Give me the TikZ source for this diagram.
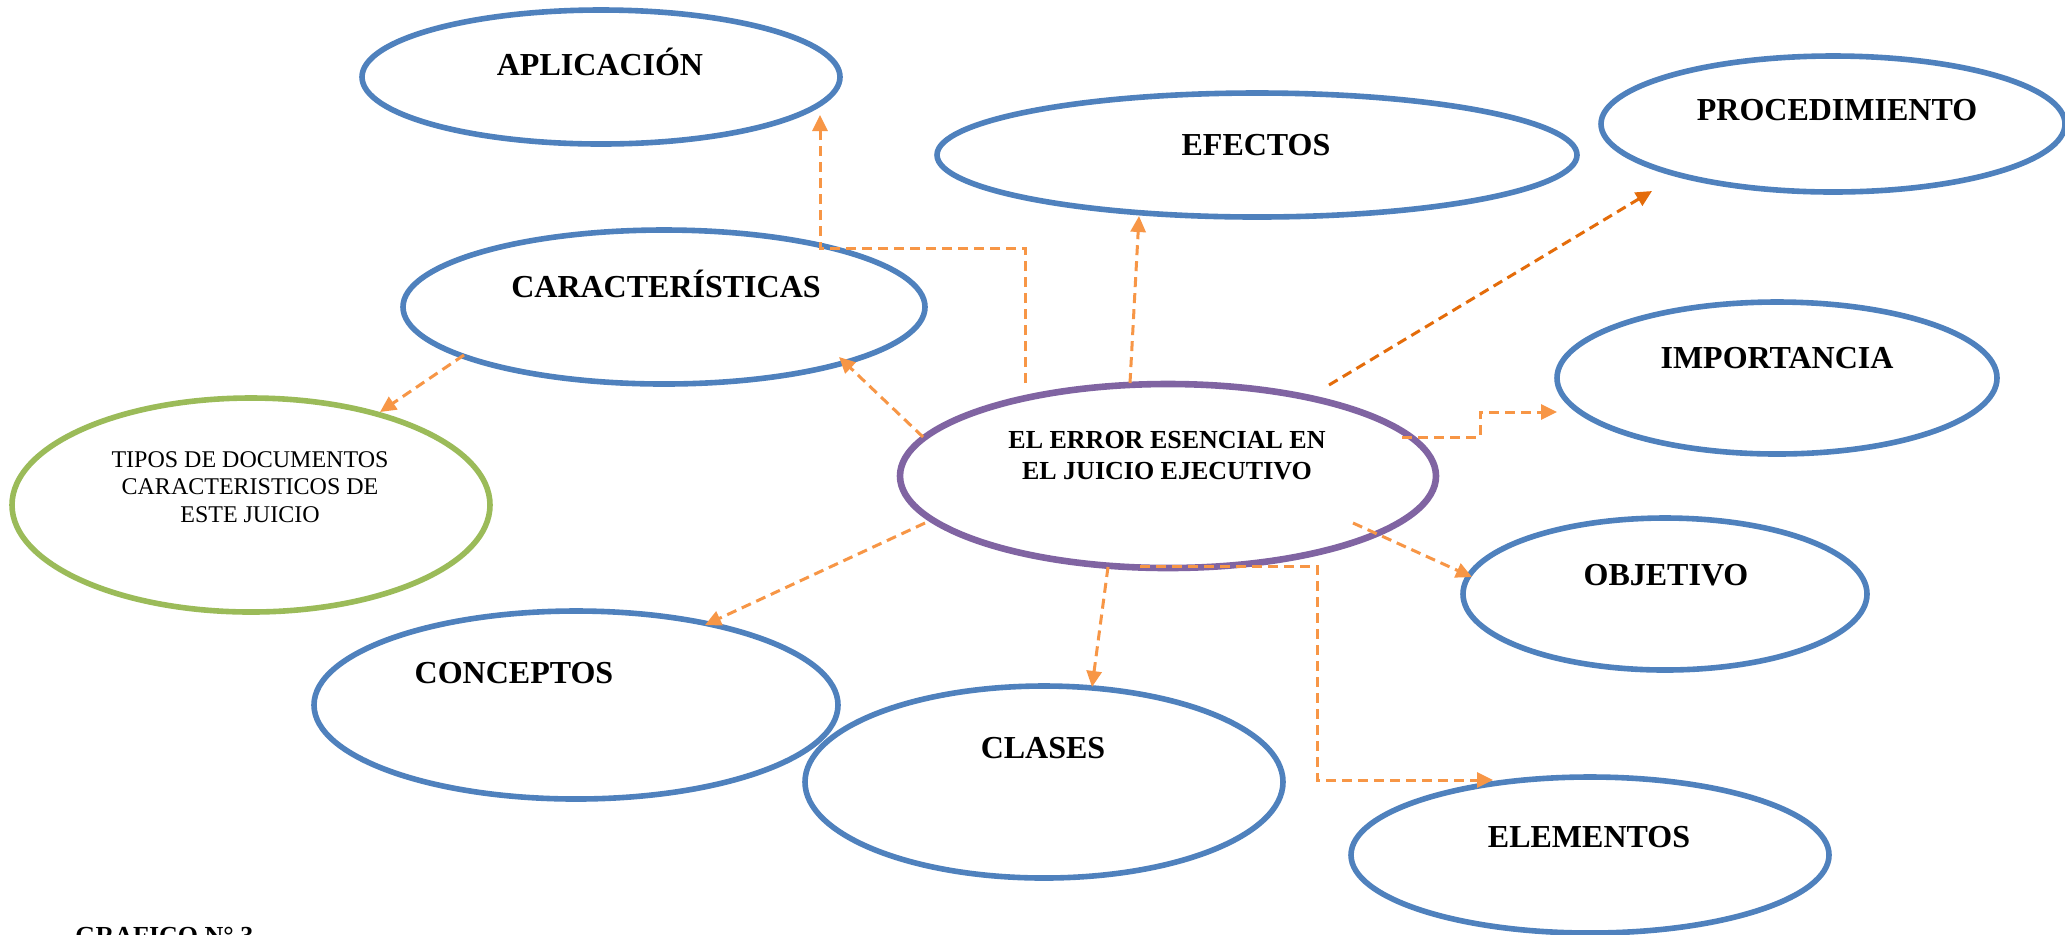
\documentclass[tikz,border=0pt]{standalone}
\usepackage{fontspec}
\setmainfont{Liberation Serif}
\usetikzlibrary{shapes.geometric,arrows.meta,calc}
\definecolor{ebl}{HTML}{4F81BD}
\definecolor{epu}{HTML}{8064A2}
\definecolor{egr}{HTML}{9BBB59}
\definecolor{eor}{HTML}{F79646}
\definecolor{edk}{HTML}{E46C0A}
\begin{document}
\begin{tikzpicture}[x=0.5pt,y=-0.5pt,
  ell/.style={ellipse,draw=ebl,line width=2.8pt,inner sep=0pt},
  lbl/.style={font=\fontsize{16}{19}\selectfont\bfseries,anchor=base,inner sep=0pt},
  conn/.style={draw=eor,line width=1.5pt,dash pattern=on 5pt off 3pt,
    -{Triangle[length=8pt,width=7.5pt]}}]
\fill[white] (0,0) rectangle (2065,934);
\useasboundingbox (0,0) rectangle (2065,934);

% ellipses
\node[ell,minimum width=239pt,minimum height=67pt] (apl) at (601,77) {};
\node[ell,minimum width=320pt,minimum height=62pt] (efe) at (1257,155) {};
\node[ell,minimum width=232pt,minimum height=68pt] (pro) at (1833,124) {};
\node[ell,minimum width=261pt,minimum height=77pt] (car) at (664,307) {};
\node[ell,minimum width=220pt,minimum height=76pt] (imp) at (1777,378) {};
\node[ell,draw=egr,minimum width=239pt,minimum height=107pt] (tdoc) at (251,505) {};
\node[ell,draw=epu,line width=3.3pt,minimum width=268pt,minimum height=92pt] (ctr) at (1168,476) {};
\node[ell,minimum width=202pt,minimum height=76pt] (obj) at (1665,594) {};
\node[ell,minimum width=262pt,minimum height=94pt] (con) at (576,705) {};
\node[ell,minimum width=239pt,minimum height=96pt] (cla) at (1044,782) {};
\node[ell,minimum width=239pt,minimum height=78pt] (ele) at (1590,855) {};

% labels
\node[lbl] (aplt) at (600,75) {APLICACIÓN};
\node[lbl] (efet) at (1256,155) {EFECTOS};
\node[lbl] (prot) at (1837,120) {PROCEDIMIENTO};
\node[lbl] (cart) at (666,297) {CARACTERÍSTICAS};
\node[lbl] (impt) at (1777,368) {IMPORTANCIA};
\node[lbl] (objt) at (1666,585) {OBJETIVO};
\node[lbl] (cont) at (514,683) {CONCEPTOS};
\node[lbl] (clat) at (1043,758) {CLASES};
\node[lbl] (elet) at (1589,847) {ELEMENTOS};
\node[align=center,inner sep=0pt,font=\fontsize{13}{15.5}\selectfont\bfseries] (ctrt) at (1167,456)
  {EL ERROR ESENCIAL EN\\EL JUICIO EJECUTIVO};
\node[align=center,inner sep=0pt,font=\fontsize{12}{13.8}\selectfont] (tdoct) at (250,487)
  {TIPOS DE DOCUMENTOS\\CARACTERISTICOS DE\\ESTE JUICIO};
\node[anchor=base west,inner sep=0pt,font=\fontsize{13}{15}\selectfont\bfseries] (graf) at (75,944)
  {GRAFICO N° 3};

% connectors
\draw[conn] ($(ctr)+(-143,-93)$) -- ++(0,-135) -| ($(apl)+(219,38)$);
\draw[conn] ($(ctr)+(-38,-93)$) -- ($(efe)+(-118,61)$);
\draw[conn,draw=edk] ($(ctr)+(161,-91)$) -- ($(pro)+(-181,67)$);
\draw[conn] ($(ctr)+(-245,-39)$) -- ($(car)+(175,50)$);
\draw[conn] ($(car)+(-200,48)$) -- ($(tdoc)+(129,-93)$);
\draw[conn] ($(ctr)+(234,-39)$) -- ++(78,0) |- ($(imp)+(-220,34)$);
\draw[conn] ($(ctr)+(185,47)$) -- ($(obj)+(-193,-17)$);
\draw[conn] ($(ctr)+(-243,47)$) -- ($(con)+(129,-80)$);
\draw[conn] ($(ctr)+(-60,91)$) -- ($(cla)+(48,-95)$);
\draw[conn] ($(ctr)+(-28,90)$) -- ++(177,0) |- ($(ele)+(-97,-75)$);
\end{tikzpicture}
\end{document}
